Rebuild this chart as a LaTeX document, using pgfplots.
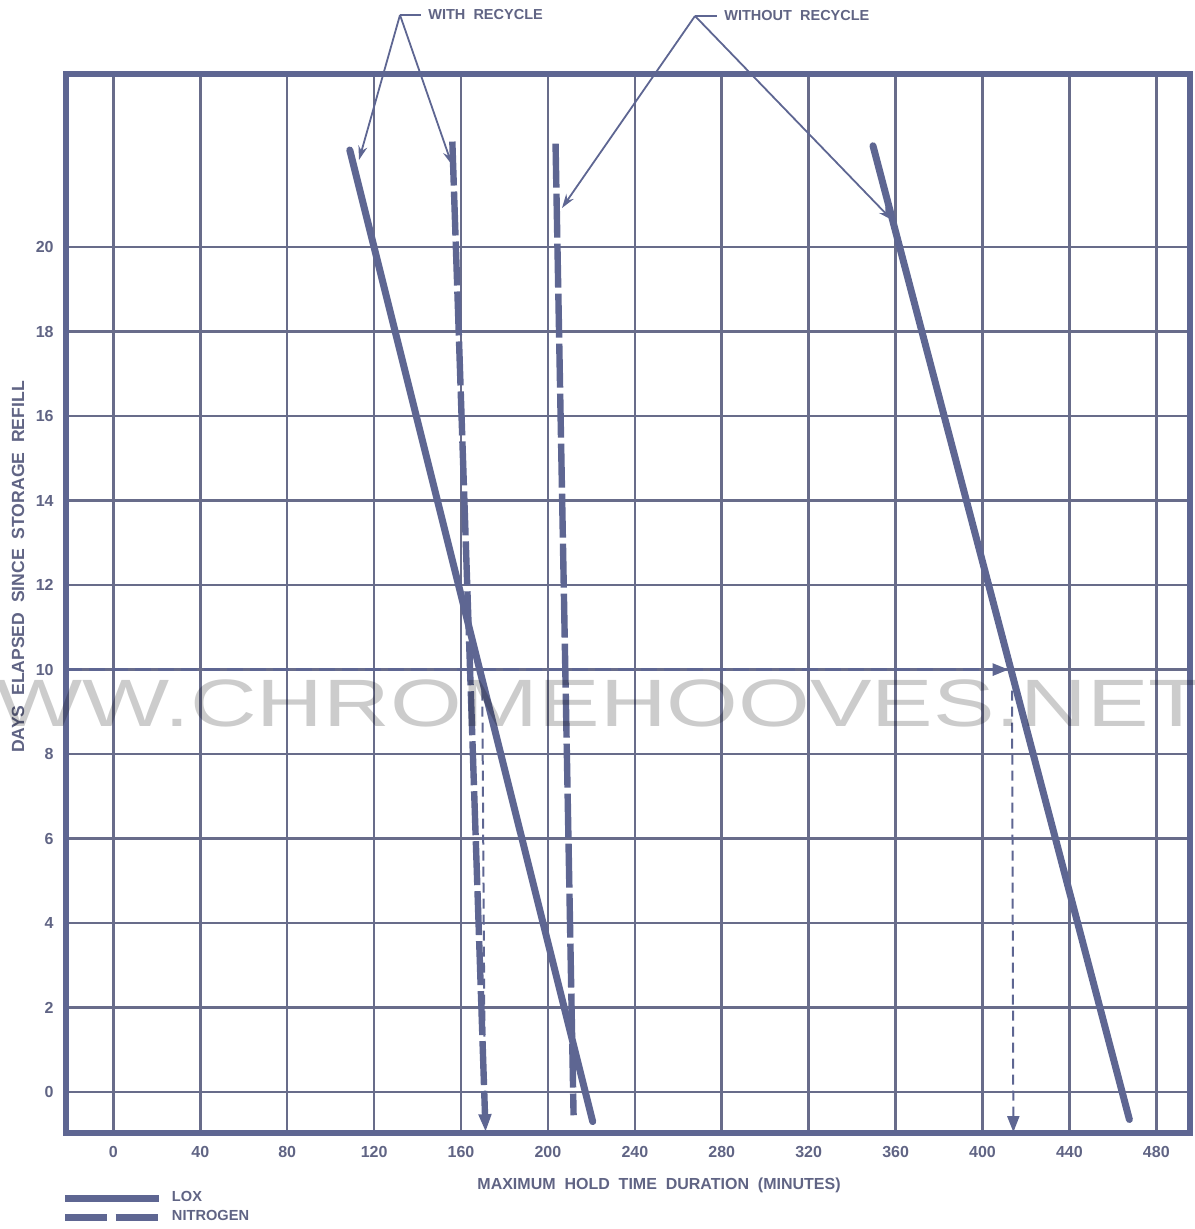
\documentclass[border=0pt]{standalone}
\usepackage{graphicx}
\usepackage{pgfplots}
\pgfplotsset{compat=1.18}
\usepackage{fontspec}
\setmainfont{Liberation Sans}
\usetikzlibrary{arrows.meta}
\definecolor{ink}{RGB}{94,102,146}
\definecolor{gridc}{RGB}{104,108,138}
\definecolor{txt}{RGB}{96,100,132}

\begin{document}
\begin{tikzpicture}
\begin{axis}[
  name=ax, at={(0,0)}, anchor=south west,
  scale only axis, width=562pt, height=529.5pt,
  xmin=-21.8, xmax=495.5, ymin=-0.97, ymax=24.1,
  xtick={0,40,...,480}, ytick={0,2,...,20},
  xticklabels={0,40,80,120,160,200,240,280,320,360,400,440,480},
  yticklabels={0,2,4,6,8,10,12,14,16,18,20},
  major tick length=0pt,
  tick style={draw=none},
  grid=major, major grid style={line width=1.3pt, color=gridc},
  axis line style={line width=2.8pt, color=ink},
  ticklabel style={font=\fontsize{8}{9}\selectfont\bfseries, text=txt, inner sep=0pt},
  xticklabel shift=6.5pt,
  yticklabel shift=6pt,
  xlabel={MAXIMUM\ \ HOLD\ \ TIME\ \ DURATION\ \ (MINUTES)},
  xlabel style={at={(axis description cs:0.5276,0)}, anchor=north, yshift=-22.5pt,
    font=\fontsize{8}{9}\selectfont\bfseries, text=txt, inner sep=0pt},
  ylabel={DAYS\ \ ELAPSED\ \ SINCE\ \ STORAGE\ \ REFILL},
  ylabel style={at={(axis description cs:-0.0427,0.5345)}, anchor=center,
    font=\fontsize{8.8}{9}\selectfont\bfseries, text=txt, inner sep=0pt},
  legend style={at={(axis description cs:0,0)}, anchor=north west, yshift=-28pt, xshift=-2pt,
    draw=none, fill=none, inner sep=0pt, outer sep=0pt, row sep=0pt, column sep=5pt,
    font=\fontsize{7.3}{8}\selectfont\bfseries, text=txt,
    cells={anchor=west},
    nodes={inner sep=0pt, text height=6pt, text depth=3.5pt}},
  legend image code/.code={\draw[#1] (0pt,0pt) -- (46.5pt,0pt);},
]
% LOX, with recycle
\addplot[ink, line width=3.5pt, line cap=round, forget plot] coordinates {(108.8,22.3) (220.6,-0.7)};
% LOX, without recycle
\addplot[ink, line width=3.5pt, line cap=round, forget plot] coordinates {(349.6,22.4) (467.6,-0.65)};
% Nitrogen, with recycle
\addplot[ink, line width=3.2pt, dash pattern=on 22pt off 3pt, -{Triangle[length=9pt,width=6pt]}, forget plot] coordinates {(156.0,22.5) (171.3,-0.95)};
% Nitrogen, without recycle
\addplot[ink, line width=3.2pt, dash pattern=on 22pt off 3pt, forget plot] coordinates {(203.5,22.45) (211.8,-0.55)};
% example read-off lines
\addplot[ink, line width=1.4pt, dash pattern=on 8pt off 3.5pt, -{Triangle[length=8pt,width=6pt]}, forget plot] coordinates {(-21.8,10) (412,10)};
\addplot[ink, line width=1pt, dash pattern=on 5pt off 3pt, -{Triangle[length=8pt,width=6pt]}, forget plot] coordinates {(413.6,9.5) (414.2,-0.95)};
\addplot[ink, line width=1pt, dash pattern=on 5pt off 3pt, forget plot] coordinates {(169.8,9.5) (171,-0.6)};
\addlegendimage{ink, line width=3.5pt}
\addlegendentry{LOX}
\addlegendimage{ink, line width=3.5pt, dash pattern=on 21pt off 4pt}
\addlegendentry{NITROGEN}
\end{axis}
\begin{scope}[shift={(-33pt,566.5pt)}, x=0.5pt, y=-0.5pt]
  \node[anchor=base west, inner sep=0pt, text=black, opacity=0.2] at (-92,727)
    {\scalebox{1.377}[1]{\fontsize{33.5pt}{34pt}\selectfont WWW.CHROMEHOOVES.NET}};
  \draw[ink, line width=0.9pt] (400,15) -- (421,15);
  \node[anchor=west, inner sep=0pt, font=\fontsize{7.25}{8}\selectfont\bfseries, text=txt] at (428,15) {WITH\ \ RECYCLE};
  \draw[ink, line width=0.9pt, -{Stealth[length=7pt,width=4.5pt]}] (400,15) -- (359,160);
  \draw[ink, line width=0.9pt, -{Stealth[length=7pt,width=4.5pt]}] (400,15) -- (452,165);
  \draw[ink, line width=0.9pt] (695,16) -- (717,16);
  \node[anchor=west, inner sep=0pt, font=\fontsize{7.25}{8}\selectfont\bfseries, text=txt] at (724,16) {WITHOUT\ \ RECYCLE};
  \draw[ink, line width=0.9pt, -{Stealth[length=7pt,width=4.5pt]}] (695,16) -- (562,208);
  \draw[ink, line width=0.9pt, -{Stealth[length=7pt,width=4.5pt]}] (695,16) -- (892,220);
  \pgfresetboundingbox
  \path[use as bounding box] (0,0) rectangle (1194,1229);
\end{scope}
\end{tikzpicture}
\end{document}
